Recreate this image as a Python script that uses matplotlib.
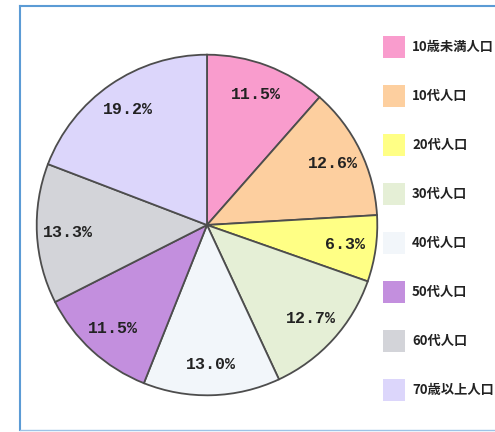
import matplotlib.pyplot as plt
from matplotlib.patches import Rectangle
from matplotlib.lines import Line2D

labels = ['10歳未満人口', '10代人口', '20代人口', '30代人口',
          '40代人口', '50代人口', '60代人口', '70歳以上人口']
shares = [11.5, 12.6, 6.3, 12.7, 13.0, 11.5, 13.3, 19.2]
colors = ['#f99ccd', '#fdcf9f', '#ffff85', '#e5efd6',
          '#f2f6fa', '#c38fde', '#d3d4d9', '#dcd6fb']

W, H = 495, 432
fig = plt.figure(figsize=(W / 100, H / 100), dpi=100)
fig.patch.set_facecolor('white')

# blue frame of the scanned page
fig.add_artist(Line2D([20 / W, 20 / W], [2 / H, 1 - 6 / H], color='#5b9bd5', lw=1.5))
fig.add_artist(Line2D([20 / W, 1], [1 - 6 / H, 1 - 6 / H], color='#5b9bd5', lw=1.5))
fig.add_artist(Line2D([20 / W, 1], [2 / H, 2 / H], color='#9dc3e6', lw=1.0))

cx, cy, r = 207, 225, 172
ax = fig.add_axes([(cx - r) / W, (H - cy - r) / H, 2 * r / W, 2 * r / H])
wedges, texts, autotexts = ax.pie(
    shares, colors=colors, startangle=90, counterclock=False,
    autopct='%.1f%%', pctdistance=0.82,
    wedgeprops=dict(edgecolor='#4d4d4d', linewidth=1.3),
    textprops=dict(fontsize=12, fontweight='bold', family='Liberation Mono',
                   color='#222222'))
ax.set_xlim(-1.01, 1.01)
ax.set_ylim(-1.01, 1.01)
ax.set_aspect('equal')
ax.axis('off')

# legend, drawn by hand to match the boxed layout
for i, (lab, col) in enumerate(zip(labels, colors)):
    y = 47 + i * 49
    fig.add_artist(Rectangle((383 / W, 1 - (y + 11) / H), 22 / W, 22 / H,
                             facecolor=col, edgecolor='none'))
    fig.text(412 / W, 1 - y / H, lab, fontsize=9.5, fontweight='bold',
             family=['Noto Sans CJK JP', 'DejaVu Sans'], va='center',
             color='#222222')

fig.savefig('out.png', dpi=100)
